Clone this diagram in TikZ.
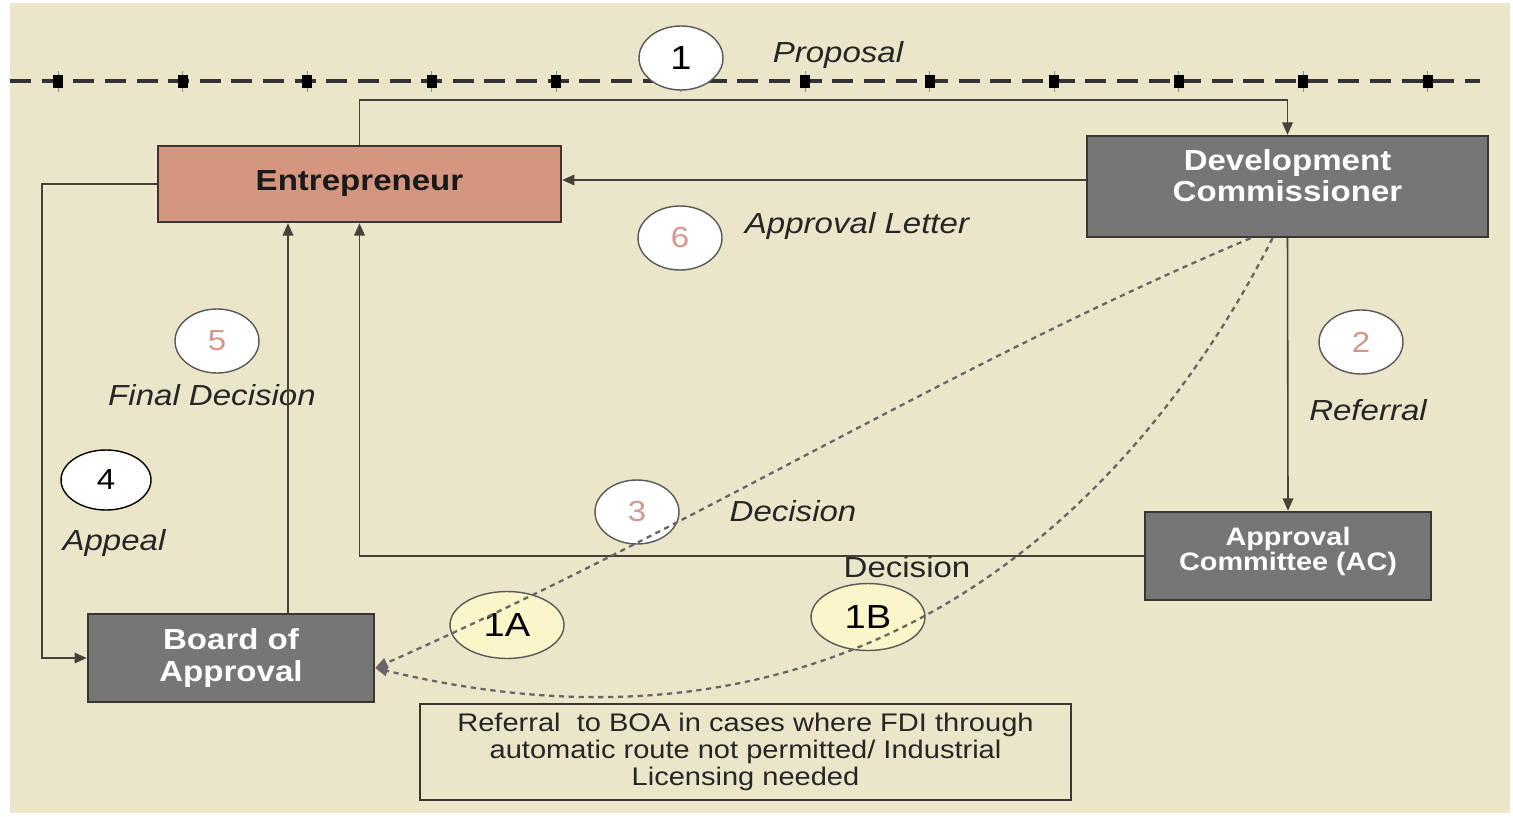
\documentclass[tikz,border=0pt]{standalone}
\usepackage{fontspec}
\setmainfont{Liberation Sans}[FakeStretch=1.14]
\usetikzlibrary{shapes.geometric,arrows.meta}

\definecolor{paper}{RGB}{235,229,201}
\definecolor{salmon}{RGB}{213,150,128}
\definecolor{boxgray}{RGB}{118,118,118}
\definecolor{edge}{RGB}{58,55,50}
\definecolor{wire}{RGB}{70,66,56}
\definecolor{pinknum}{RGB}{214,150,140}
\definecolor{paleyellow}{RGB}{250,246,202}

\begin{document}
\begin{tikzpicture}[
    x = 0.02cm, y = -0.02cm,
    flow/.style = {draw=wire, line width=0.9pt, -{Triangle[length=7pt,width=6pt]}},
    refer/.style = {draw=black!60, line width=1.3pt, dash pattern=on 3pt off 2.6pt,
                    -{Triangle[length=7pt,width=6pt]}},
    topline/.style = {draw=black!80, line width=2.1pt, dash pattern=on 12pt off 6pt},
    person/.style = {draw=edge, line width=1.4pt, fill=salmon, text=black!90,
                     minimum width=8.06cm, minimum height=1.52cm,
                     font=\fontsize{16.5}{19}\selectfont\bfseries},
    office/.style = {draw=edge, line width=1.4pt, fill=boxgray, text=white, align=center,
                     font=\fontsize{16.5}{17.8}\selectfont\bfseries},
    stage/.style = {ellipse, draw=black!65, line width=0.8pt, fill=white, inner sep=0pt,
                    minimum width=1.68cm, minimum height=1.28cm,
                    font=\fontsize{16.5}{19}\selectfont, text=pinknum},
    route/.style = {stage, fill=paleyellow, text=black, minimum width=2.28cm,
                    minimum height=1.34cm, font=\fontsize{19}{21}\selectfont},
    caption/.style = {font=\fontsize{16.5}{19}\selectfont\itshape, text=black!85}]

\useasboundingbox (0,0) rectangle (1513,817);
\fill[paper] (10,3) rectangle (1510,813);

% dashed band along the top
\draw[topline] (10,81) -- (1480,81);
\foreach \i in {0,...,11}{
    \draw[black!45, line width=0.4pt] ({58+124.5*\i},71) -- ++(0,21);
    \fill[black] ({53+124.5*\i},75) rectangle ++(10,13);
}

% boxes
\node[person] (ent) at (359.5,184) {Entrepreneur};
\node[office, minimum width=8.02cm, minimum height=2.02cm] (dc) at (1287.5,186.5)
    {Development\\Commissioner\\[-5pt]\mbox{}};
\node[office, minimum width=5.72cm, minimum height=1.76cm,
      font=\fontsize{14.4}{14.4}\selectfont\bfseries] (ac) at (1288,556)
    {Approval\\Committee (AC)\\[-6pt]\mbox{}};
\node[office, minimum width=5.72cm, minimum height=1.76cm] (boa) at (231,658)
    {Board of\\Approval};
\node[draw=edge, line width=1.2pt, minimum width=13.02cm, minimum height=1.92cm,
      align=center, text=black!85, font=\fontsize{14.5}{15.4}\selectfont] (note) at (745.5,752)
    {Referral \ to BOA in cases where FDI through\\automatic route not permitted/ Industrial\\Licensing needed};

% numbered steps
\node[stage, text=black, font=\fontsize{19}{21}\selectfont] (s1) at (681,58) {1};
\node[stage] (s6) at (680,238) {6};
\node[stage] (s5) at (217,341) {5};
\node[stage] (s2) at (1361,342) {2};
\node[stage, draw=black, text=black, minimum width=1.8cm, minimum height=1.2cm] (s4) at (106,480) {4};
\node[stage] (s3) at (637,512) {3};
\node[route] (s1a) at (507,625) {1A};
\node[route] (s1b) at (868,617) {1B};

% step captions
\node[caption] (lprop) at (838,55) {Proposal};
\node[caption] (lletter) at (857,226) {Approval Letter};
\node[caption] (lfinal) at (212,395) {Final Decision};
\node[caption] (lref) at (1368,410) {Referral};
\node[caption] (ldec) at (793,511) {Decision};
\node[caption] (lapp) at (114,543) {Appeal};
\node[font=\fontsize{16.5}{19}\selectfont, text=black!85] (ldecac) at (907,567) {Decision};

% connectors
\draw[flow] (ent.north) -- ++(0,-45) -| (dc.north);
\draw[flow] ([yshift=0.08cm]ent.east -| dc.west) -- ([yshift=0.08cm]ent.east);
\draw[flow] (dc.south) -- (ac.north);
\draw[flow] (ac.west) -| (ent.south);
\draw[flow] ([xshift=1.14cm]boa.north) -- ([xshift=1.14cm]boa.north |- ent.south);
\draw[flow] (ent.west) -- ++(-115,0) |- (boa.west);

% referral to BOA
\draw[refer] ([xshift=-0.74cm]dc.south) .. controls (950,365) and (692,528) .. ([yshift=-0.2cm]boa.east);
\draw[refer] ([xshift=-0.3cm]dc.south) .. controls (1150,480) and (880,790) .. ([yshift=-0.2cm]boa.east);
\end{tikzpicture}
\end{document}
